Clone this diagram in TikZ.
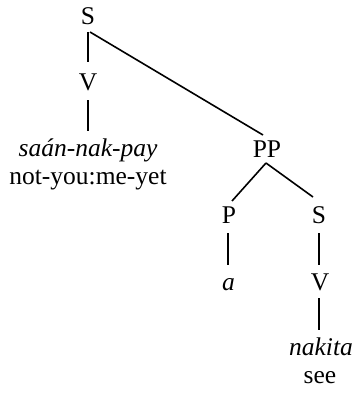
\documentclass[tikz,border=0pt]{standalone}
\usepackage{fontspec}
\setmainfont{Liberation Serif}
\usetikzlibrary{calc}
\tikzset{
  lbl/.style={anchor=base, inner sep=0pt, font=\fontsize{25.5}{30}\selectfont},
  word/.style={lbl, font=\fontsize{25.5}{30}\selectfont\itshape},
  branch/.style={line width=1.6pt, line cap=butt}
}
\begin{document}
\begin{tikzpicture}[x=1pt, y=-1pt]
\useasboundingbox (0,0) rectangle (357,396);
\node[lbl] (S1) at (88,25) {S};
\node[lbl] (V1) at (88,90) {V};
\node[word] (w1) at (88,156) {saán-nak-pay};
\node[lbl] (g1) at (88,184) {not-you:me-yet};
\node[lbl] (PP) at (267,157) {PP};
\node[lbl] (P) at (229,223) {P};
\node[lbl] (S2) at (319,223) {S};
\node[word] (a) at (228.5,290) {a};
\node[lbl] (V2) at (320,290) {V};
\node[word] (w2) at (321,355) {nakita};
\node[lbl] (g2) at (320,383) {see};

\draw[branch] ($(S1.base)+(0,7)$) -- ($(V1.base)+(0,-28)$);
\draw[branch] ($(S1.base)+(2,7)$) -- ($(PP.base)+(-4,-22)$);
\draw[branch] ($(V1.base)+(0,10)$) -- ($(w1.base)+(0,-25)$);
\draw[branch] ($(PP.base)+(-1,6)$) -- ($(P.base)+(3,-22)$);
\draw[branch] ($(PP.base)+(-1,6)$) -- ($(S2.base)+(-6,-26)$);
\draw[branch] ($(P.base)+(-1,10)$) -- ($(a.base)+(-0.5,-25)$);
\draw[branch] ($(S2.base)+(0,10)$) -- ($(V2.base)+(-1,-25)$);
\draw[branch] ($(V2.base)+(-1,8)$) -- ($(w2.base)+(-2,-25)$);
\end{tikzpicture}
\end{document}
